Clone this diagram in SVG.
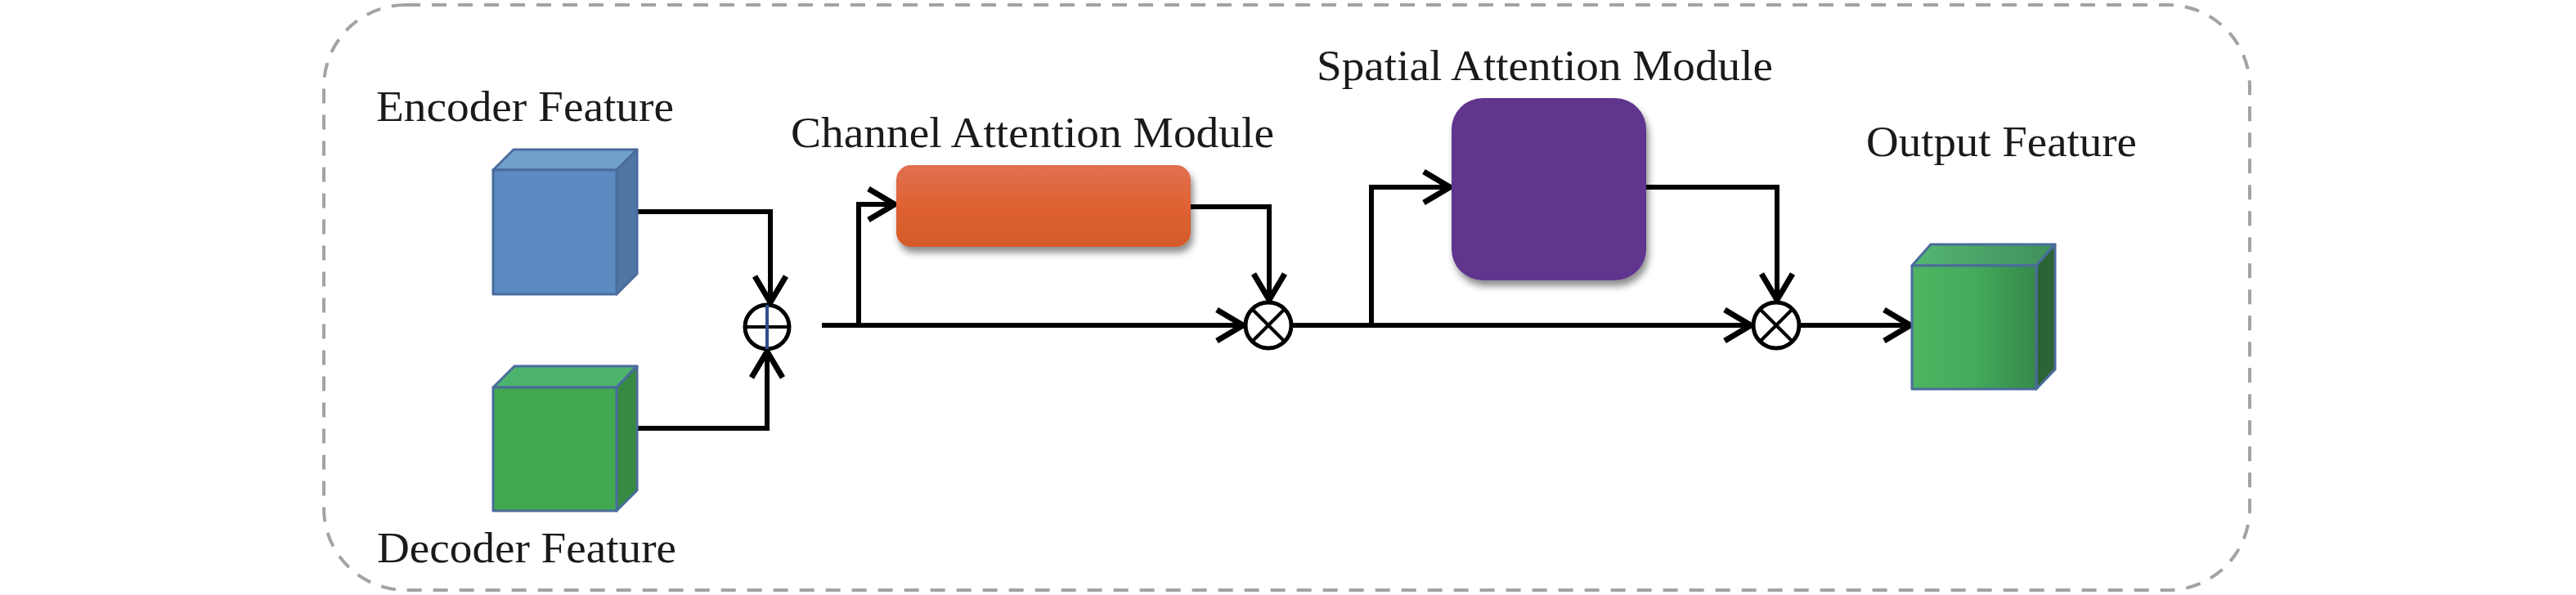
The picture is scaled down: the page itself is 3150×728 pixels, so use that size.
<svg xmlns="http://www.w3.org/2000/svg" width="3150" height="728" viewBox="0 0 3150 728">
<style>
.lbl{font-family:"Liberation Serif","Times New Roman",serif;font-size:53px;fill:#1a1a1a}
.wire{fill:none;stroke:#000;stroke-width:6;stroke-linejoin:miter}
.op{fill:#fff;stroke:#000;stroke-width:5}
.opl{stroke:#000;stroke-width:4}
.edge{stroke:#4a6c9c;stroke-width:3;stroke-linejoin:round}
</style>
<defs>
<marker id="arr" markerUnits="userSpaceOnUse" markerWidth="50" markerHeight="50" viewBox="0 0 50 50" refX="40" refY="25" orient="auto">
<path d="M8,6 L40,25 L8,44" fill="none" stroke="#000" stroke-width="7"/>
</marker>
<linearGradient id="gOrange" x1="0" y1="0" x2="0" y2="1">
<stop offset="0" stop-color="#e07050"/>
<stop offset="0.5" stop-color="#df6233"/>
<stop offset="1" stop-color="#d35a28"/>
</linearGradient>
<linearGradient id="gOutFront" x1="0" y1="0" x2="1" y2="0">
<stop offset="0" stop-color="#4db562"/>
<stop offset="0.5" stop-color="#44ab5a"/>
<stop offset="1" stop-color="#35894a"/>
</linearGradient>
<linearGradient id="gOutTop" x1="0" y1="0" x2="1" y2="0">
<stop offset="0" stop-color="#55b673"/>
<stop offset="1" stop-color="#3f8f5c"/>
</linearGradient>
<filter id="sh" x="-10%" y="-10%" width="130%" height="140%">
<feDropShadow dx="3" dy="7" stdDeviation="4" flood-color="#000" flood-opacity="0.45"/>
</filter>
</defs>

<rect id="frame" x="396" y="6" width="2355" height="716" rx="100" ry="100" fill="none" stroke="#a3a3a3" stroke-width="4" stroke-dasharray="18 14"/>

<g id="connectors">
<path class="wire" d="M779,259 H942 V370" marker-end="url(#arr)"/>
<path class="wire" d="M779,524 H938 V430" marker-end="url(#arr)"/>
<path class="wire" d="M1005,398 H1520" marker-end="url(#arr)"/>
<path class="wire" d="M1050,398 V250 H1094" marker-end="url(#arr)"/>
<path class="wire" d="M1456,253 H1552 V367" marker-end="url(#arr)"/>
<path class="wire" d="M1580,398 H2141" marker-end="url(#arr)"/>
<path class="wire" d="M1677,398 V229 H1773" marker-end="url(#arr)"/>
<path class="wire" d="M2013,229 H2173 V367" marker-end="url(#arr)"/>
<path class="wire" d="M2201,398 H2336" marker-end="url(#arr)"/>
</g>

<g id="encoder">
<polygon points="603,208 628,183 779,183 754,208" fill="#72a0cc" class="edge"/>
<polygon points="754,208 779,183 779,335 754,360" fill="#4e75a3" class="edge"/>
<rect x="603" y="208" width="151" height="152" fill="#5b8bc0" class="edge"/>
<text class="lbl" x="460" y="148" textLength="364" lengthAdjust="spacingAndGlyphs">Encoder Feature</text>
</g>

<g id="decoder">
<polygon points="603,474 629,448 779,448 754,474" fill="#4cb46c" class="edge"/>
<polygon points="754,474 779,448 779,600 754,625" fill="#378a42" class="edge"/>
<rect x="603" y="474" width="151" height="151" fill="#41a84f" class="edge"/>
<text class="lbl" x="461" y="688" textLength="366" lengthAdjust="spacingAndGlyphs">Decoder Feature</text>
</g>

<g id="add">
<circle class="op" cx="938" cy="400" r="27" stroke-width="4"/>
<line class="opl" x1="911" y1="400" x2="965" y2="400"/>
<line x1="938" y1="373" x2="938" y2="427" stroke="#2f4f8a" stroke-width="4"/>
</g>

<g id="channel">
<rect x="1096" y="202" width="360" height="100" rx="18" ry="18" fill="url(#gOrange)" filter="url(#sh)"/>
<text class="lbl" x="967" y="180" textLength="591" lengthAdjust="spacingAndGlyphs">Channel Attention Module</text>
</g>

<g id="mul1">
<circle class="op" cx="1551" cy="398" r="28"/>
<line class="opl" x1="1531" y1="378" x2="1571" y2="418"/>
<line class="opl" x1="1571" y1="378" x2="1531" y2="418"/>
</g>

<g id="spatial">
<rect x="1775" y="120" width="238" height="223" rx="38" ry="38" fill="#5e348e" filter="url(#sh)"/>
<text class="lbl" x="1610" y="98" textLength="558" lengthAdjust="spacingAndGlyphs">Spatial Attention Module</text>
</g>

<g id="mul2">
<circle class="op" cx="2172" cy="398" r="28"/>
<line class="opl" x1="2152" y1="378" x2="2192" y2="418"/>
<line class="opl" x1="2192" y1="378" x2="2152" y2="418"/>
</g>

<g id="output">
<polygon points="2338,325 2361,299 2513,299 2490,325" fill="url(#gOutTop)" class="edge"/>
<polygon points="2490,325 2513,299 2513,452 2490,476" fill="#2c6435" class="edge"/>
<rect x="2338" y="325" width="152" height="151" fill="url(#gOutFront)" class="edge"/>
<text class="lbl" x="2282" y="191" textLength="331" lengthAdjust="spacingAndGlyphs">Output Feature</text>
</g>
</svg>
